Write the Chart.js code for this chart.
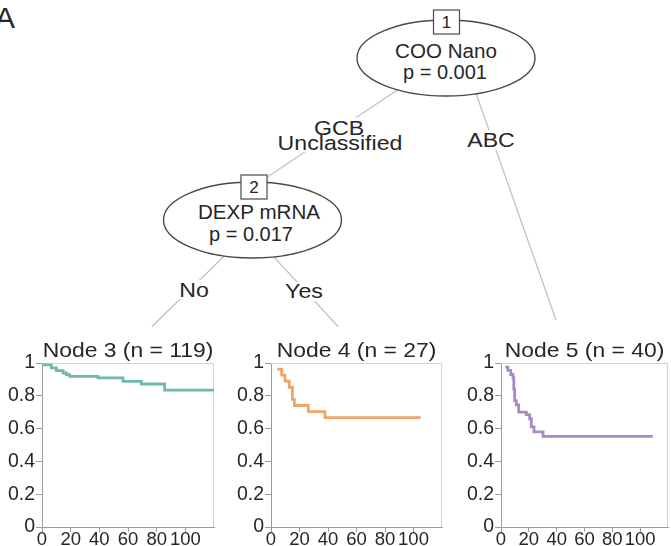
<!DOCTYPE html>
<html>
<head>
<meta charset="utf-8">
<script src="https://cdn.jsdelivr.net/npm/chart.js@4.4.1/dist/chart.umd.min.js"></script>
<style>
  html, body { margin: 0; padding: 0; background: #fff; }
  #fig { position: relative; width: 671px; height: 546px; overflow: hidden; background: #fff;
         font-family: 'Liberation Sans', Arial, sans-serif; }
  #tree { position: absolute; left: 0; top: 0; }
  .km { position: absolute; }
</style>
</head>
<body>
<div id="fig">
  <svg id="tree" width="671" height="546" xmlns="http://www.w3.org/2000/svg"></svg>
  <canvas id="km3" class="km"></canvas>
  <canvas id="km4" class="km"></canvas>
  <canvas id="km5" class="km"></canvas>
</div>
<script>
// ── Survival data (time in months, Kaplan-Meier estimate) ──
const xTicks = [0, 20, 40, 60, 80, 100];
const yTicks = [0, 0.2, 0.4, 0.6, 0.8, 1];
const timeMax = 120;

const nodeIds = [3, 4, 5];
const nodeN   = [119, 27, 40];

const node3Time = [0, 6.5, 10, 14.7, 17, 19.3, 39, 56.5, 69.3, 85.6, 120];
const node3Surv = [0.988, 0.970, 0.953, 0.939, 0.929, 0.919, 0.909, 0.888, 0.872, 0.834, 0.834];

const node4Time = [4.4, 7.5, 9.8, 12.8, 15, 16.4, 26.2, 37.9, 105];
const node4Surv = [0.963, 0.926, 0.889, 0.852, 0.778, 0.741, 0.704, 0.667, 0.667];

const node5Time = [3.1, 5, 7, 8.6, 9.2, 9.8, 11, 12.7, 18.2, 20.6, 21.8, 23.7, 30.2, 109];
const node5Surv = [0.975, 0.955, 0.93, 0.91, 0.84, 0.77, 0.745, 0.70, 0.685, 0.66, 0.61, 0.58, 0.552, 0.552];

// ── Tree text ──
const splitVars   = ['COO Nano', 'DEXP mRNA'];
const splitP      = ['0.001', '0.017'];
const edgeLabels  = [['GCB', 'Unclassified'], ['ABC'], ['No'], ['Yes']];

const FONT = "'Liberation Sans', Arial, sans-serif";
const INK = '#262626';

// ── Tree drawing (SVG) ──
const svg = document.getElementById('tree');
const NS = 'http://www.w3.org/2000/svg';
function el(tag, attrs, parent) {
  const e = document.createElementNS(NS, tag);
  for (const k in attrs) e.setAttribute(k, attrs[k]);
  (parent || svg).appendChild(e);
  return e;
}
// centred text, optionally widened
function txt(s, x, y, size, parent, sx = 1) {
  const t = el('text', {x: 0, y: 0, transform: `translate(${x},${y}) scale(${sx},1)`,
    'font-size': size, 'font-family': FONT, fill: INK,
    'text-anchor': 'middle', 'dominant-baseline': 'central'}, parent);
  t.textContent = s;
  return t;
}

// figure letter
el('text', {x: -5, y: 28, 'font-size': 30, 'font-family': FONT, fill: INK}).textContent = 'A';

// edges: parent -> child
const edges = [
  [460, 48, 254, 186],
  [460, 48, 556, 320],
  [250, 231, 151.7, 326.7],
  [250, 231, 338.3, 326.7],
];
edges.forEach(([x1, y1, x2, y2]) =>
  el('line', {x1, y1, x2, y2, stroke: '#c2c2c2', 'stroke-width': 1.3}));

// inner nodes
const innerGeom = [
  {cx: 446, cy: 58, rx: 89, ry: 38, bx: 446.5, by: 22, tx: [446, 445], ty: [51, 72]},
  {cx: 252.5, cy: 220, rx: 89, ry: 38, bx: 254, by: 187, tx: [259, 251], ty: [212.5, 233.5]},
];
innerGeom.forEach((g, i) => {
  el('ellipse', {cx: g.cx, cy: g.cy, rx: g.rx, ry: g.ry, fill: '#fff', stroke: '#4a4a4a', 'stroke-width': 1.4});
  el('rect', {x: g.bx - 13, y: g.by - 12, width: 26, height: 24, fill: '#fff', stroke: '#4a4a4a', 'stroke-width': 1.2});
  txt(String(i + 1), g.bx, g.by + 0.5, 17);
  txt(splitVars[i], g.tx[0], g.ty[0], 20, null, 1.03);
  txt('p = ' + splitP[i], g.tx[1], g.ty[1], 20);
});

// edge labels on white patches
const labelGeom = [
  {x: [339, 340], y: [127.5, 142.5]},
  {x: [491], y: [140]},
  {x: [194], y: [289.7]},
  {x: [304], y: [291.3]},
];
labelGeom.forEach((g, i) => {
  const grp = el('g', {});
  const bg = el('rect', {fill: '#fff'}, grp);
  const items = edgeLabels[i].map((s, j) => txt(s, g.x[j], g.y[j], 20.5, grp, 1.13));
  let x0 = Infinity, y0 = Infinity, x1 = -Infinity, y1 = -Infinity;
  items.forEach(t => {
    const b = t.getBoundingClientRect();
    x0 = Math.min(x0, b.left); y0 = Math.min(y0, b.top);
    x1 = Math.max(x1, b.right); y1 = Math.max(y1, b.bottom);
  });
  bg.setAttribute('x', x0 - 1); bg.setAttribute('y', y0 + 2);
  bg.setAttribute('width', x1 - x0 + 2); bg.setAttribute('height', y1 - y0 - 4);
});

// ── Kaplan-Meier panels (Chart.js) ──
const panelArea = [
  {left: 42, right: 214},
  {left: 271, right: 442},
  {left: 501, right: 668},
];
const areaTop = 363, areaBottom = 527, canvasTop = 330, canvasBottom = 546;
const yAxisW = 44, padRight = 6;

const series = [
  {time: node3Time, surv: node3Surv, color: '#70b7ad'},
  {time: node4Time, surv: node4Surv, color: '#f2a367'},
  {time: node5Time, surv: node5Surv, color: '#a88ac8'},
];

// light frame on top/right, panel title above
const framePlugin = {
  id: 'nodeFrame',
  beforeDatasetsDraw(chart) {
    const {ctx, chartArea: a} = chart;
    ctx.save();
    ctx.strokeStyle = '#d4d4d4';
    ctx.lineWidth = 1;
    ctx.beginPath();
    ctx.moveTo(a.left, a.top + 0.5);
    ctx.lineTo(a.right - 0.5, a.top + 0.5);
    ctx.lineTo(a.right - 0.5, a.bottom);
    ctx.stroke();
    ctx.restore();
  },
  afterDraw(chart, args, opts) {
    const {ctx, chartArea: a} = chart;
    ctx.save();
    ctx.translate((a.left + a.right) / 2, a.top - 6);
    ctx.scale(1.09, 1);
    ctx.font = `21px ${FONT}`;
    ctx.fillStyle = INK;
    ctx.textAlign = 'center';
    ctx.textBaseline = 'alphabetic';
    ctx.fillText(opts.text, 0, 0);
    ctx.restore();
  }
};

const axisGray = '#9c9c9c';

series.forEach((s, i) => {
  const area = panelArea[i];
  const cv = document.getElementById('km' + nodeIds[i]);
  const left = area.left - yAxisW;
  cv.width = area.right + padRight - left;
  cv.height = canvasBottom - canvasTop;
  cv.style.left = left + 'px';
  cv.style.top = canvasTop + 'px';

  new Chart(cv, {
    type: 'line',
    data: {datasets: [{
      data: s.time.map((t, k) => ({x: t, y: s.surv[k]})),
      borderColor: s.color, borderWidth: 2.8, stepped: 'before',
      pointRadius: 0, fill: false
    }]},
    options: {
      responsive: false, animation: false, events: [],
      layout: {padding: {top: areaTop - canvasTop, right: padRight, left: 0, bottom: 0}},
      plugins: {
        legend: {display: false}, tooltip: {enabled: false},
        nodeFrame: {text: `Node ${nodeIds[i]} (n = ${nodeN[i]})`}
      },
      scales: {
        x: {
          type: 'linear', min: 0, max: timeMax,
          afterBuildTicks: sc => { sc.ticks = xTicks.map(v => ({value: v})); },
          afterFit: sc => { sc.height = canvasBottom - areaBottom; },
          grid: {drawOnChartArea: false, tickLength: 5, color: axisGray},
          border: {color: axisGray},
          ticks: {font: {family: FONT, size: 18.5}, color: INK, padding: -3, maxRotation: 0, autoSkip: false}
        },
        y: {
          type: 'linear', min: 0, max: 1,
          afterBuildTicks: sc => { sc.ticks = yTicks.map(v => ({value: v})); },
          afterFit: sc => { sc.width = yAxisW; },
          grid: {drawOnChartArea: false, tickLength: 6, color: axisGray},
          border: {color: axisGray},
          ticks: {font: {family: FONT, size: 19.5}, color: INK, padding: 1, callback: v => String(v)}
        }
      }
    },
    plugins: [framePlugin]
  });
});
</script>
</body>
</html>
